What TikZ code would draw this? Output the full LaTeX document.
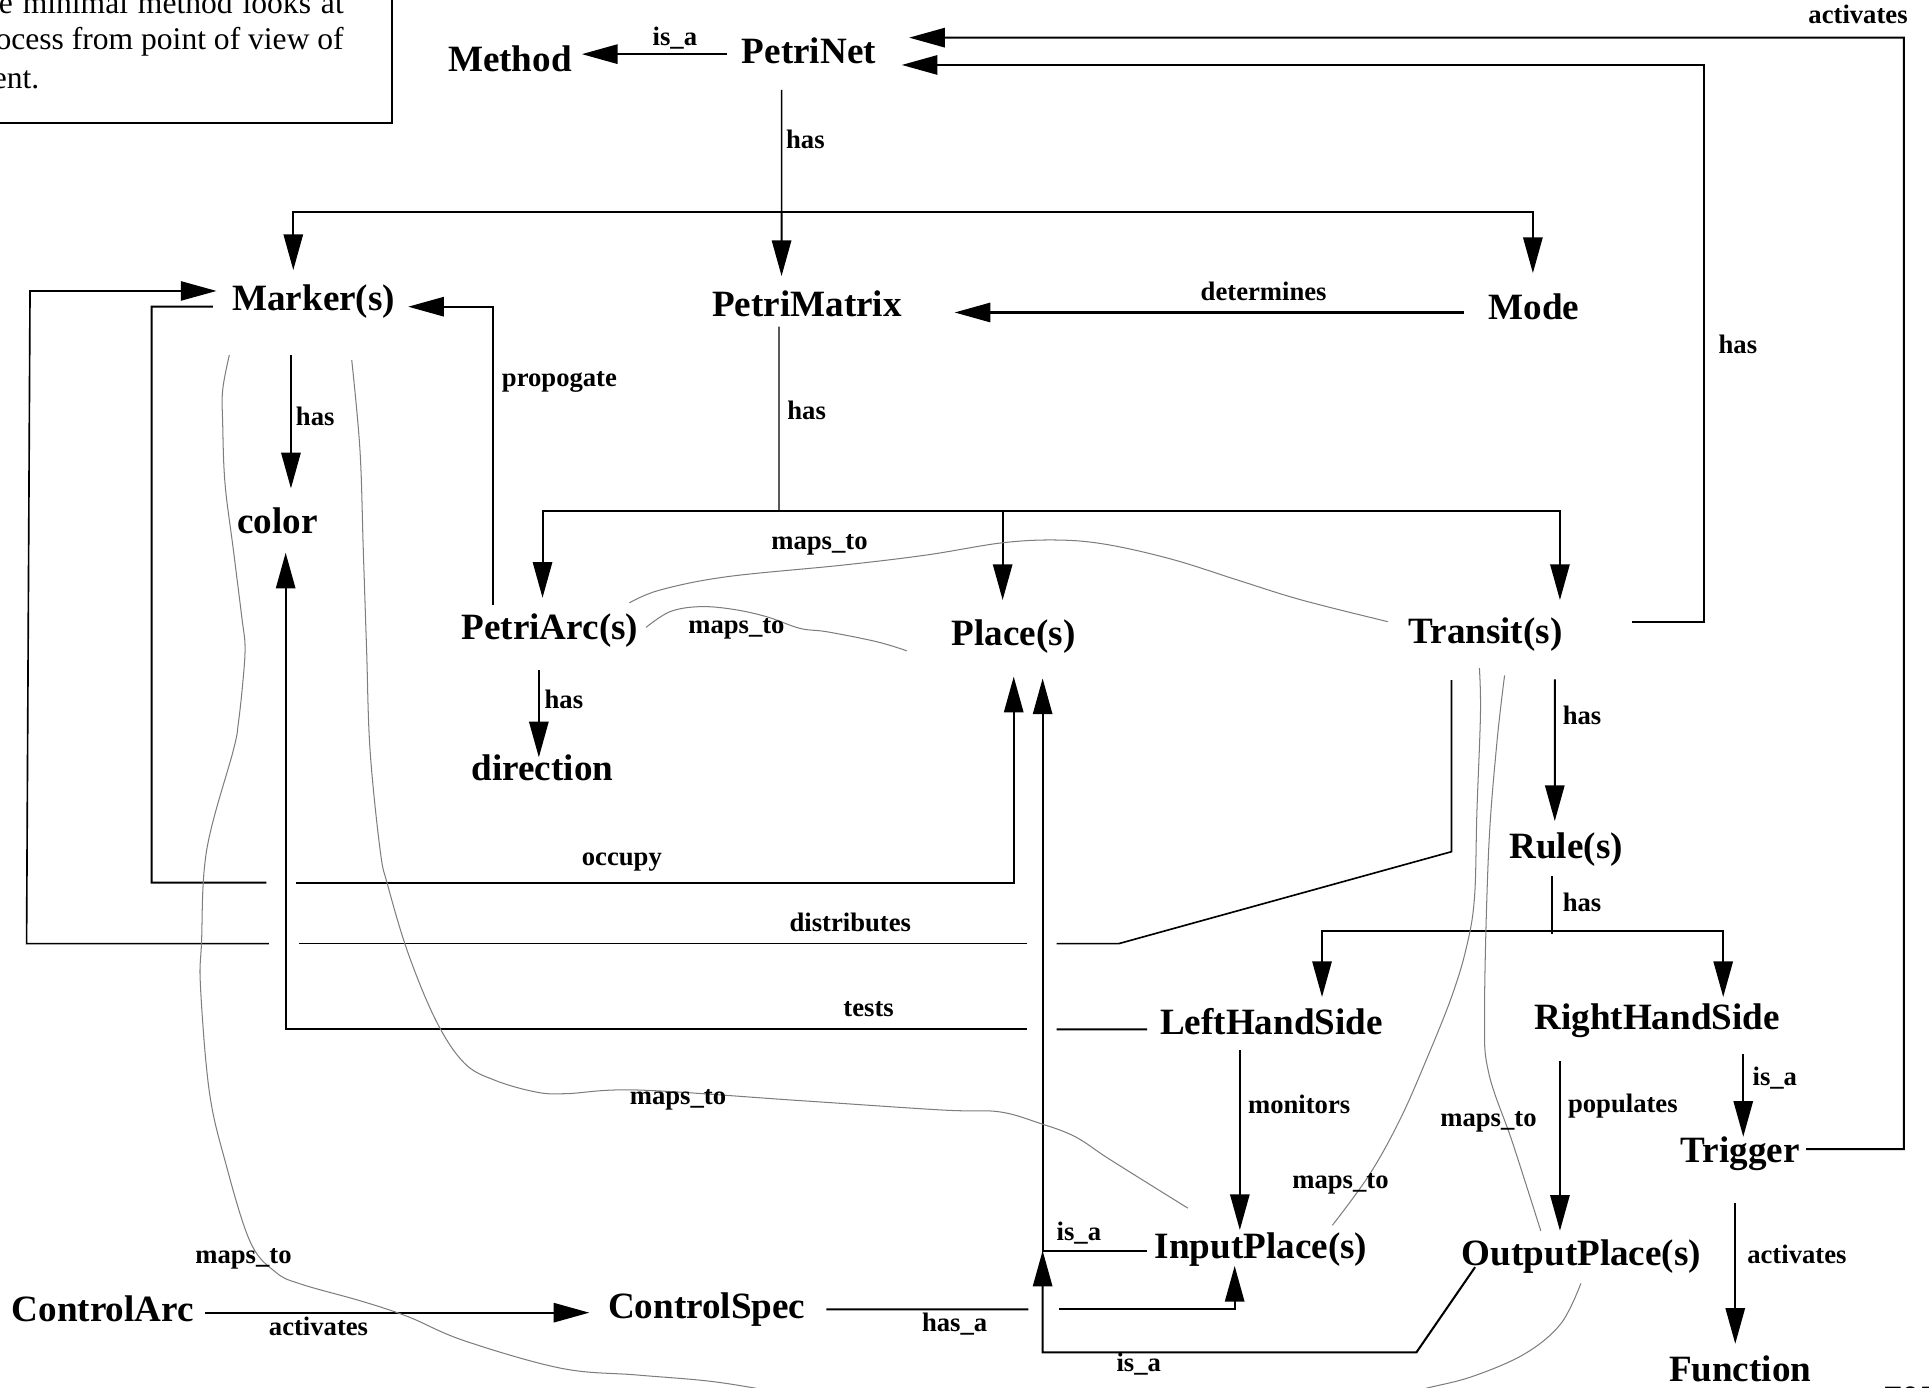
\documentclass[tikz,border=0pt]{standalone}
\usepackage{fontspec}
\setmainfont{Liberation Serif}
\usetikzlibrary{arrows.meta}
\definecolor{mapgray}{RGB}{125,125,125}
\newcommand\entfont{\fontsize{18.1pt}{21pt}\selectfont\bfseries}
\newcommand\labfont{\fontsize{13pt}{15pt}\selectfont\bfseries}
\newcommand\notefont{\fontsize{15.4pt}{18pt}\selectfont}
\begin{document}
\begin{tikzpicture}[x=0.6pt,y=-0.6pt,
  ent/.style={font=\entfont,inner sep=0pt,outer sep=0pt,anchor=base},
  lab/.style={font=\labfont,inner sep=0pt,outer sep=0pt,anchor=base west},
  note/.style={font=\notefont,inner sep=0pt,outer sep=0pt,anchor=base east},
  ln/.style={line width=1pt},
  lnthin/.style={line width=0.7pt},
  arr/.style={line width=1pt,-{Triangle[length=17.4pt,width=9.4pt]}},
  maps/.style={draw=mapgray,line width=0.5pt}]

\useasboundingbox (0,0) rectangle (1568,1128);
\clip (0,0) rectangle (1568,1128);

% note box (cropped)
\draw[line width=1pt] (-20,-20) rectangle (318.6,99.7);
\node[note] (note1) at (279.4,10.8) {\makebox[168.2pt][s]{e minimal method looks at}};
\node[note] (note2) at (279.4,40.6) {ocess from point of view of};
\node[note] (note3) at (32,71.8) {ent.};

% entities
\node[ent] (Method) at (414.5,58.5) {Method};
\node[ent] (PetriNet) at (657.5,52) {PetriNet};
\node[ent] (Marker) at (255,252.5) {Marker(s)};
\node[ent] (PetriMatrix) at (656,257.4) {PetriMatrix};
\node[ent] (Mode) at (1247,260) {Mode};
\node[ent] (colorN) at (225.5,433.5) {color};
\node[ent] (PetriArc) at (447,519.5) {PetriArc(s)};
\node[ent] (Place) at (824,524.3) {Place(s)};
\node[ent] (Transit) at (1207.5,523) {Transit(s)};
\node[ent] (Direction) at (441,634.3) {direction};
\node[ent] (Rule) at (1273,698) {Rule(s)};
\node[ent] (LHS) at (1033.5,841) {LeftHandSide};
\node[ent] (RHS) at (1347,837) {RightHandSide};
\node[ent] (Trigger) at (1414.5,945) {Trigger};
\node[ent] (InputPlace) at (1025,1022.7) {InputPlace(s)};
\node[ent] (OutputPlace) at (1285.5,1029) {OutputPlace(s)};
\node[ent] (Function) at (1414.5,1122.6) {Function};
\node[ent] (ControlArc) at (83.5,1074.5) {ControlArc};
\node[ent] (ControlSpec) at (574.5,1072) {ControlSpec};
\node[ent,anchor=base west] (pageno) at (1530.6,1147) {707};

% hubs
\coordinate (hubNet) at (635.3,172);
\coordinate (hubMat) at (633.2,415);
\coordinate (hubRule) at (1261.5,756.5);
\coordinate (jIsa) at (847.5,1016.6);

% PetriNet is_a Method
\draw[arr] ([shift={(-66.5,-8)}]PetriNet.base) -- ([shift={(58.5,-14.5)}]Method.base);
% PetriNet has ...
\draw[lnthin] ([shift={(-22.2,21)}]PetriNet.base) -- (hubNet);
\draw[arr] (hubNet) -| ([shift={(-16.6,-33)}]Marker.base);
\draw[arr] (hubNet) -- ([shift={(-20.7,-33)}]PetriMatrix.base);
\draw[arr] (hubNet) -| ([shift={(-1,-38)}]Mode.base);
% Mode determines PetriMatrix
\draw[arr] ([shift={(-57,-6)}]Mode.base) -- ([shift={(120,-3.4)}]PetriMatrix.base);
% Trigger activates PetriNet
\draw[arr] ([shift={(53.5,-11)}]Trigger.base) -| (1547.5,30.6) -- ([shift={(81.5,-21.4)}]PetriNet.base);
% Transit has (PetriNet)
\draw[arr] ([shift={(119.2,-17.7)}]Transit.base) -| (1385,52.8) -- ([shift={(75.5,0.8)}]PetriNet.base);
% PetriMatrix has ...
\draw[lnthin] ([shift={(-22.8,8.1)}]PetriMatrix.base) -- (hubMat);
\draw[arr] (hubMat) -| ([shift={(-6,-33.6)}]PetriArc.base);
\draw[arr] (hubMat) -| ([shift={(60.5,-35.3)}]Transit.base);
\draw[arr] (815,415) -- ([shift={(-9,-36.6)}]Place.base);
% Marker has color
\draw[arr] ([shift={(-18.5,36.1)}]Marker.base) -- ([shift={(11,-36.5)}]colorN.base);
% PetriArc propogate Marker
\draw[arr] ([shift={(-46.1,-27.7)}]PetriArc.base) |- ([shift={(76.8,-3.2)}]Marker.base);
% occupy
\draw[ln] ([shift={(-82,-3.2)}]Marker.base) -- (123.3,249.3) -- (123.3,717.4) -- (216.6,717.4);
\draw[arr] (240.6,717.4) -| ([shift={(0,25.7)}]Place.base);
% distributes
\draw[line width=0.8pt] ([shift={(-27.7,29.8)}]Transit.base) -- (1179.8,692.3) -- (909.5,767) -- (858.9,767);
\draw[line width=0.8pt] (834.8,767) -- (243.4,767);
\draw[line width=0.8pt,-{Triangle[length=17.4pt,width=9.4pt]}] (218.6,767) -- (21.6,767) -- (24.4,236.5) -- ([shift={(-79,-16)}]Marker.base);
% tests
\draw[ln] ([shift={(-101.1,-4.3)}]LHS.base) -- (858.9,836.7);
\draw[arr] (834.8,836.7) -| ([shift={(6.7,15.8)}]colorN.base);
% PetriArc has direction
\draw[arr] ([shift={(-9,25.5)}]PetriArc.base) -- ([shift={(-3,-18.7)}]Direction.base);
% Transit has Rule
\draw[arr] ([shift={(56.3,29.3)}]Transit.base) -- ([shift={(-9.2,-30.6)}]Rule.base);
% Rule has LHS / RHS
\draw[lnthin] ([shift={(-11.5,14.4)}]Rule.base) -- (1261.5,759.5);
\draw[arr] (hubRule) -| ([shift={(41.1,-30.6)}]LHS.base);
\draw[arr] (hubRule) -| ([shift={(53.7,-26.6)}]RHS.base);
% monitors
\draw[arr] ([shift={(-25.7,12.5)}]LHS.base) -- ([shift={(-17.2,-22.9)}]InputPlace.base);
% populates
\draw[arr] ([shift={(-79,25.7)}]RHS.base) -- ([shift={(-17.5,-28.6)}]OutputPlace.base);
% RHS is_a Trigger
\draw[arr] ([shift={(70,19.6)}]RHS.base) -- ([shift={(2.5,-21)}]Trigger.base);
% Trigger activates Function
\draw[arr] ([shift={(-4,33)}]Trigger.base) -- ([shift={(-4,-30.3)}]Function.base);
% InputPlace is_a Place
\draw[arr] ([shift={(-92.6,-6.1)}]InputPlace.base) -| ([shift={(23.5,27.2)}]Place.base);
% OutputPlace is_a
\draw[arr] ([shift={(-86.5,1)}]OutputPlace.base) -- (1151.3,1099.3) -- (847.5,1099.3) -- (jIsa);
% ControlSpec has_a InputPlace
\draw[ln] ([shift={(97.3,-7.7)}]ControlSpec.base) -- (836,1064.3);
\draw[arr] (861,1064.3) -| ([shift={(-21.4,6.3)}]InputPlace.base);
% ControlArc activates ControlSpec
\draw[arr] ([shift={(83.5,-7.5)}]ControlArc.base) -- ([shift={(-95.5,-5)}]ControlSpec.base);

% maps_to curves
\draw[maps] plot[smooth,tension=0.6] coordinates {([shift={(64.6,-29.5)}]PetriArc.base) (536.5,479.6) (590.7,468.8) (685.5,459.3) (753.3,451.1) (815.6,441.1) (862,439) (902,443) (954,455) (1006,471.5) (1058,487.7) ([shift={(-79.5,-17.7)}]Transit.base)};
\draw[maps] plot[smooth,tension=0.6] coordinates {([shift={(78.1,-9.5)}]PetriArc.base) (544.6,497.2) (569,493.1) (596,495.3) (623.2,501.3) (650.3,510.8) (672,513.5) (712.6,521.6) ([shift={(-87,4.7)}]Place.base)};
\draw[maps] plot[smooth,tension=0.6] coordinates {([shift={(-68.6,36.1)}]Marker.base) (181,317) (181,344) (182.9,392.9) (189.7,447) (196.5,501.3) (199.2,525.7) (197.3,555.5) (193.7,588) (189.7,609.7) (168,691) (163.8,766.3) (163,802.5) (170,886.2) (182.5,942) (203.2,1009) (224,1034) (244.7,1043.8) (294.4,1057.8) (331.8,1070.3) (377.4,1089.8) (456.2,1112.2) (518.4,1117.7) (581,1123.2) (640,1133)};
\draw[maps] plot[smooth,tension=0.6] coordinates {([shift={(30.9,40.1)}]Marker.base) (292.6,365.8) (295.3,447) (298,528.4) (300.8,609.7) (309,691) (315,719) (331.7,774.7) (354.6,830) (377.3,864) (402,878) (435.5,887.6) (460,889) (518.4,886) (650,894.6) (766.4,902.3) (812,903.7) (845,913) (874,924) (903,943) ([shift={(-59.5,-40.7)}]InputPlace.base)};
\draw[maps] plot[smooth,tension=0.6] coordinates {([shift={(-5,20)}]Transit.base) (1203.4,580) (1200.5,660) (1198.5,730) (1192,770) (1180,810) (1160,860) (1138,910) (1113,955) ([shift={(58,-26.7)}]InputPlace.base)};
\draw[maps] plot[smooth,tension=0.6] coordinates {([shift={(15.5,26)}]Transit.base) (1216.5,606.2) (1210,692) (1206.7,822.6) (1210,871.7) (1229.5,928.9) ([shift={(-33.1,-28.6)}]OutputPlace.base)};
\draw[maps] plot[smooth,tension=0.6] coordinates {([shift={(-0.5,14.2)}]OutputPlace.base) (1268.7,1076) (1239.3,1100.5) (1197,1118.8) (1161,1128) (1140,1133)};

% labels
\node[lab] (lbIsaTop) at (530.5,36.6) {is\_a};
\node[lab] (lbHasNet) at (639,120.5) {has};
\node[lab] (lbActTop) at (1470,19) {activates};
\node[lab] (lbDet) at (976,244) {determines};
\node[lab] (lbHasMk) at (240.6,345.5) {has};
\node[lab] (lbProp) at (408,313.8) {propogate};
\node[lab] (lbHasMat) at (640,341) {has};
\node[lab] (lbHasRight) at (1397,287) {has};
\node[lab] (lbMap1) at (627,447) {maps\_to};
\node[lab] (lbMap2) at (559.5,515) {maps\_to};
\node[lab] (lbHasArc) at (442.7,576) {has};
\node[lab] (lbHasTr) at (1270.3,589) {has};
\node[lab] (lbOcc) at (473,703.5) {occupy};
\node[lab] (lbHasRule) at (1270.3,741) {has};
\node[lab,anchor=base east] (lbDist) at (740.5,757.3) {distributes};
\node[lab] (lbTests) at (685.6,826.4) {tests};
\node[lab] (lbIsaTrig) at (1424.6,882) {is\_a};
\node[lab] (lbMap3) at (512,898) {maps\_to};
\node[lab] (lbMon) at (1014.5,905) {monitors};
\node[lab] (lbMap4) at (1170.8,915.5) {maps\_to};
\node[lab] (lbPop) at (1274.6,904.5) {populates};
\node[lab] (lbMap5) at (1050.5,966) {maps\_to};
\node[lab] (lbIsaIn) at (858.9,1008) {is\_a};
\node[lab] (lbActFn) at (1420.3,1027) {activates};
\node[lab] (lbMap6) at (158.8,1027) {maps\_to};
\node[lab] (lbActCA) at (218.6,1085.7) {activates};
\node[lab] (lbHasA) at (749.5,1082.5) {has\_a};
\node[lab] (lbIsaBot) at (907.6,1115) {is\_a};
\end{tikzpicture}
\end{document}
